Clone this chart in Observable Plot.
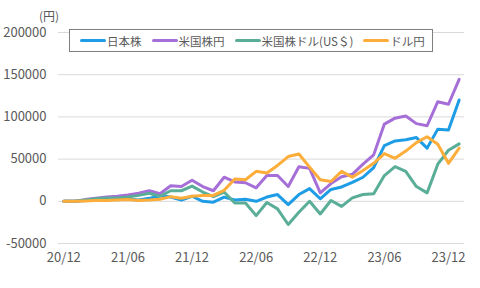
<!DOCTYPE html>
<html><head><meta charset="utf-8">
<script src="https://cdn.jsdelivr.net/npm/d3@7"></script>
<script src="https://cdn.jsdelivr.net/npm/@observablehq/plot@0.6"></script>
<style>
body{margin:0;background:#fff;}
#wrap{position:relative;width:480px;height:288px;font-family:"Noto Sans CJK JP","Noto Sans",sans-serif;color:#595959;}
#unit{position:absolute;left:39px;top:7px;font-size:12px;}
#legend{position:absolute;left:69px;top:29px;height:23px;border:1px solid #7f7f7f;background:#fff;display:flex;align-items:center;padding:0 7px 0 10px;box-sizing:border-box;font-size:11.5px;}
.item{display:flex;align-items:center;margin-right:10px;white-space:nowrap;}
.item:last-child{margin-right:0;}
.sw{width:26px;height:3px;border-radius:2px;margin-right:1px;}
</style></head><body><div id="wrap"><div id="unit">(円)</div></div>
<script>
const months = ["20/12","21/01","21/02","21/03","21/04","21/05","21/06","21/07","21/08","21/09","21/10","21/11",
  "21/12","22/01","22/02","22/03","22/04","22/05","22/06","22/07","22/08","22/09","22/10","22/11",
  "22/12","23/01","23/02","23/03","23/04","23/05","23/06","23/07","23/08","23/09","23/10","23/11",
  "23/12","24/01"];
const tickMonths = ["20/12","21/06","21/12","22/06","22/12","23/06","23/12"];
const yTicks = [-50000, 0, 50000, 100000, 150000, 200000];
const seriesNames = ["日本株","米国株円","米国株ドル(US＄)","ドル円"];
const japanStock = [0,0,1000,1500,2000,2000,2500,1500,3500,6500,5000,1500,6000,0,-1000,5000,1500,2500,0,5000,8000,-4000,8000,15000,3000,14000,17000,22500,28500,40000,66000,71500,73000,75500,63000,85500,84500,120000];
const usStockYen = [0,0,2000,3500,5000,6000,7500,9500,12500,9000,18500,17500,25000,17500,12500,28500,23000,22000,16000,30500,30500,17500,41000,39000,10000,21000,29000,32000,44000,55000,91500,98500,101000,92000,89500,118000,115000,144500];
const usStockUsd = [0,0,1500,3000,4000,4000,5000,7000,9500,6000,12500,12500,18000,11000,5500,11000,-2000,-2000,-17000,-1500,-9000,-27500,-13000,0,-15000,1000,-6000,4000,8000,9000,30500,41000,35500,17500,10000,44000,60500,68000];
const usdYen = [0,0,500,1000,1000,1500,2000,1000,1500,2500,5500,3500,6000,7000,7000,13000,26500,25500,35500,33500,42500,53000,56000,40500,25500,23500,35500,28500,36500,45000,56500,51000,59500,69500,76500,67500,45000,63000];
const colors = ["#1e9de6","#a66fd8","#5aae98","#fdad3a"];
const seriesValues = [japanStock, usStockYen, usStockUsd, usdYen];

const chart = Plot.plot({
  width: 480, height: 288,
  marginLeft: 58, marginRight: 16, marginTop: 32, marginBottom: 45,
  style: {fontFamily: '"Noto Sans CJK JP","Noto Sans",sans-serif', fontSize: "13px", color: "#595959", background: "white"},
  x: {type: "linear", domain: [-0.5, months.length - 0.5]},
  y: {domain: [-50000, 200000]},
  marks: [
    Plot.gridY(yTicks, {stroke: "#d9d9d9", strokeOpacity: 1, strokeWidth: 1}),
    Plot.axisY(yTicks, {tickSize: 0, tickPadding: 12, tickFormat: d => String(d), label: null, fill: "#595959"}),
    Plot.axisX(tickMonths.map(m => months.indexOf(m)), {tickSize: 0, tickPadding: 9, tickFormat: i => months[i], label: null, fill: "#595959"}),
    ...seriesValues.map((vals, k) => Plot.line(vals, {x: (d, i) => i, y: d => d, stroke: colors[k], strokeWidth: 3, strokeLinejoin: "round", strokeLinecap: "round"}))
  ]
});
const wrap = document.getElementById("wrap");
wrap.insertBefore(chart, wrap.firstChild);
const leg = document.createElement("div");
leg.id = "legend";
seriesNames.forEach((n, k) => {
  const it = document.createElement("div"); it.className = "item";
  const sw = document.createElement("div"); sw.className = "sw"; sw.style.background = colors[k];
  const tx = document.createElement("span"); tx.textContent = n;
  it.appendChild(sw); it.appendChild(tx); leg.appendChild(it);
});
wrap.appendChild(leg);
</script></body></html>
